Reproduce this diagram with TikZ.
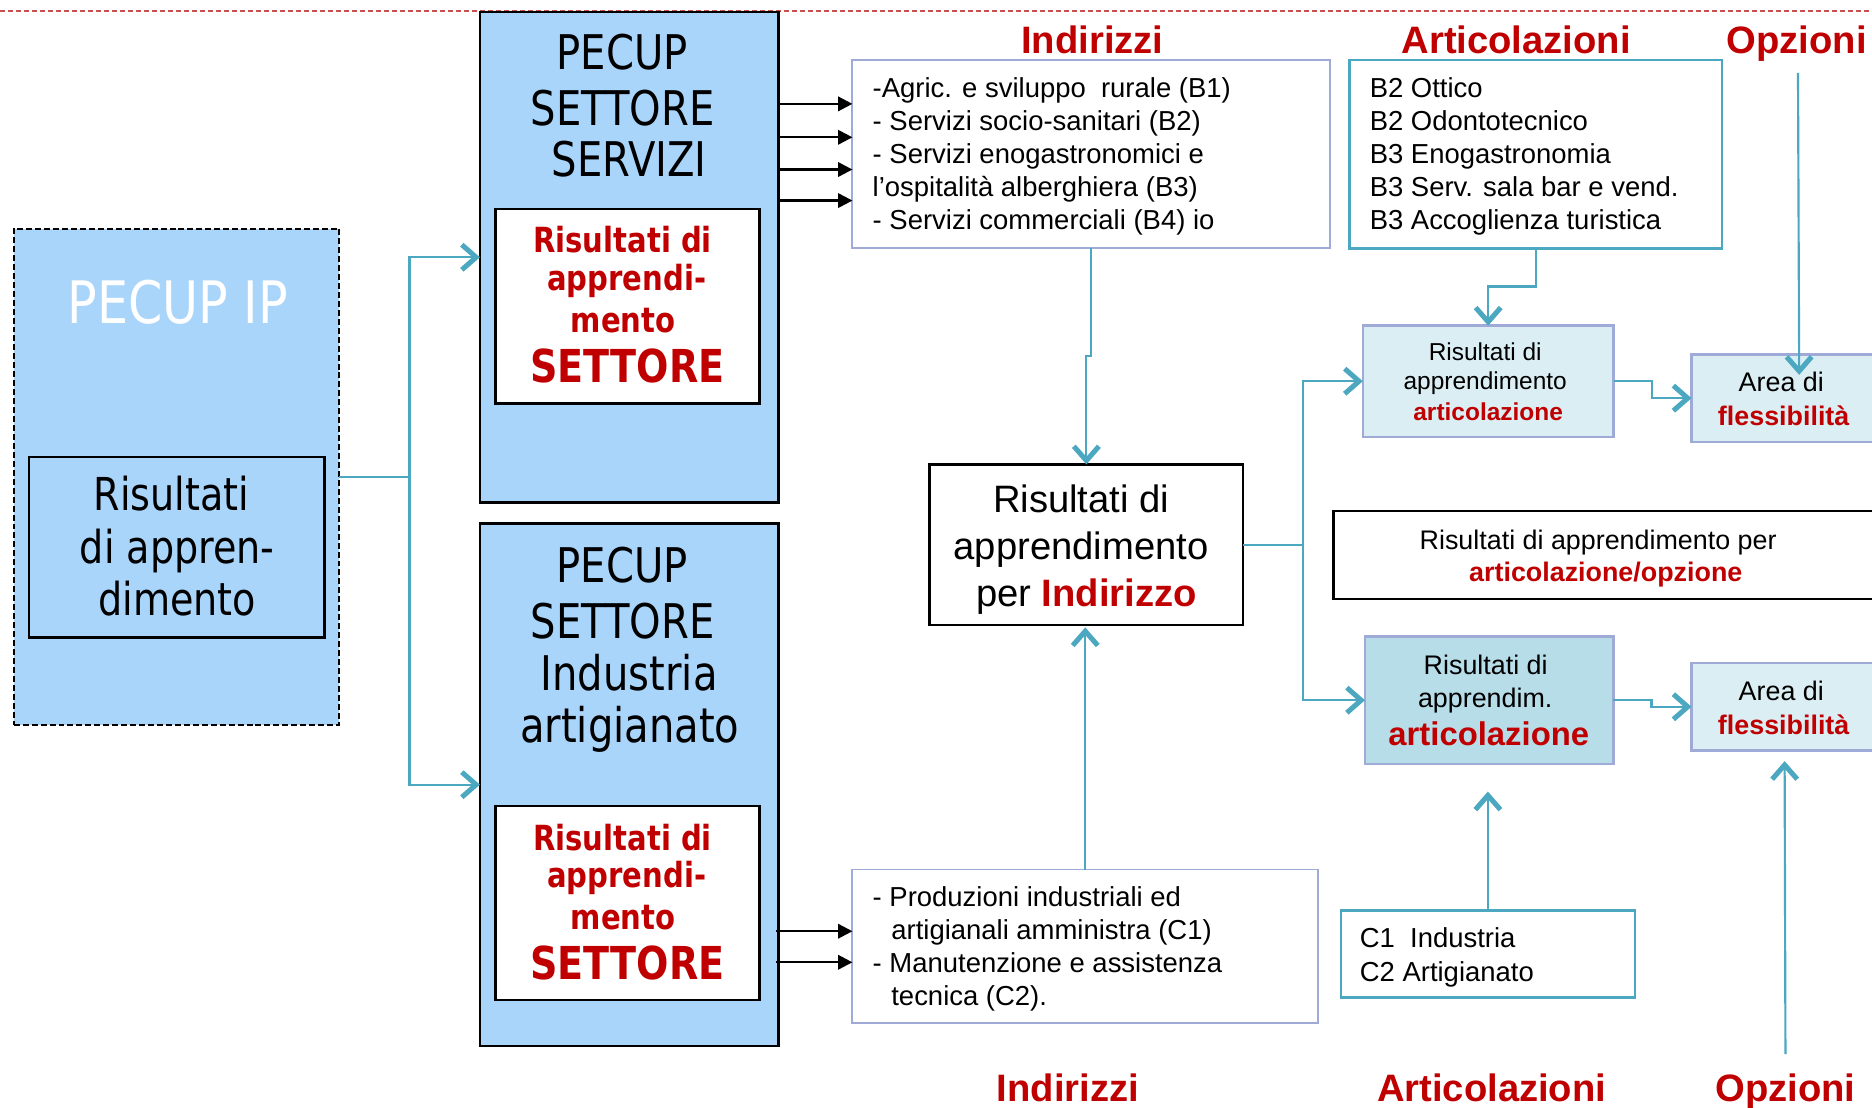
\documentclass[tikz,border=0pt]{standalone}
\usepackage{fontspec}
\setmainfont{Liberation Sans}
\newfontfamily\tah[FakeStretch=0.84]{DejaVu Sans}
\usetikzlibrary{arrows.meta}
\definecolor{pblue}{RGB}{170,213,251}
\definecolor{redd}{RGB}{192,0,0}
\definecolor{tealc}{RGB}{75,168,192}
\definecolor{lavc}{RGB}{160,170,215}
\definecolor{lightc}{RGB}{219,238,244}
\definecolor{midc}{RGB}{183,221,232}
\definecolor{dashred}{RGB}{200,80,80}
\newcommand\myfs[1]{\fontsize{#1pt}{#1pt}\selectfont}
\begin{document}
\begin{tikzpicture}[x=1pt,y=-1pt,
  tl/.style={draw=tealc, line width=1.8pt},
  tla/.style={tl, -{Straight Barb[length=12pt,width=21pt,line width=4.2pt]}},
  blk/.style={draw=black, line width=2pt, -{Triangle[length=12pt,width=12pt]}},
  bx/.style={anchor=north west, inner sep=0pt, outer sep=0pt, rectangle},
  tx/.style={anchor=base, inner sep=0pt, outer sep=0pt},
  lx/.style={anchor=base west, inner sep=0pt, outer sep=0pt, font=\myfs{23}},
  hd/.style={tx, text=redd, font=\myfs{32}\bfseries},
  th/.style={tx, font=\tah\myfs{40}},
  tr/.style={tx, text=redd, font=\tah\myfs{29}\bfseries},
  tb/.style={tx, text=redd, font=\tah\myfs{38}\bfseries}]
\useasboundingbox (0,0) rectangle (1568,928);
\clip (0,0) rectangle (1568,928);
\fill[white] (0,0) rectangle (1568,928);
\draw[dashred, line width=1.8pt, dash pattern=on 4.5pt off 2.2pt] (0,9.5) -- (1568,9.5);

% boxes
\node[bx, fill=pblue, draw=black, line width=1.5pt, dash pattern=on 5pt off 2.5pt,
  minimum width=272.5pt, minimum height=415.5pt] (ip) at (11.5,191.5) {};
\node[bx, fill=pblue, draw=black, line width=2pt, minimum width=247.5pt, minimum height=151pt] (ipin) at (24.3,383) {};
\node[bx, fill=pblue, draw=black, line width=2pt, minimum width=250pt, minimum height=411pt] (serv) at (402,10) {};
\node[bx, fill=white, draw=black, line width=2pt, minimum width=221pt, minimum height=163pt] (servin) at (415,175) {};
\node[bx, fill=pblue, draw=black, line width=2pt, minimum width=250pt, minimum height=437.5pt] (indus) at (402,438.5) {};
\node[bx, fill=white, draw=black, line width=2pt, minimum width=221pt, minimum height=162.5pt] (indusin) at (415,675) {};
\node[bx, draw=lavc, line width=1.6pt, minimum width=400pt, minimum height=157.5pt] (ind1) at (714,50.5) {};
\node[bx, draw=tealc, line width=2pt, minimum width=312pt, minimum height=157.5pt] (art1) at (1130.4,50.5) {};
\node[bx, fill=lightc, draw=lavc, line width=2pt, minimum width=210pt, minimum height=93pt] (rart1) at (1141.5,272.8) {};
\node[bx, fill=lightc, draw=lavc, line width=2pt, minimum width=156pt, minimum height=73pt] (area1) at (1416.8,297) {};
\node[bx, draw=black, line width=2pt, minimum width=262.5pt, minimum height=134.5pt] (rind) at (778.7,389) {};
\node[bx, draw=black, line width=2pt, minimum width=470pt, minimum height=73.5pt] (opzbox) at (1117,428) {};
\node[bx, fill=midc, draw=lavc, line width=2pt, minimum width=208pt, minimum height=107pt] (rart2) at (1143.3,533) {};
\node[bx, fill=lightc, draw=lavc, line width=2pt, minimum width=156pt, minimum height=73pt] (area2) at (1416.8,555.5) {};
\node[bx, draw=tealc, line width=2pt, minimum width=246.5pt, minimum height=73pt] (cbox) at (1123,762.5) {};
\node[bx, draw=lavc, line width=1.6pt, minimum width=390pt, minimum height=128.7pt] (ind2) at (714,728.3) {};

% headings
\node[hd] (hI1) at (915,44.7) {Indirizzi};
\node[hd] (hA1) at (1270,44.7) {Articolazioni};
\node[hd] (hO1) at (1505,44.7) {Opzioni};
\node[hd] (hI2) at (894.5,922.4) {Indirizzi};
\node[hd] (hA2) at (1249.4,922.4) {Articolazioni};
\node[hd] (hO2) at (1495.5,922.4) {Opzioni};

% PECUP IP
\node[tx, text=white, font=\tah\myfs{49}] (tip) at (149,270.8) {PECUP IP};
\node[tx, font=\tah\myfs{38}] (tip1) at (143.5,427.7) {Risultati};
\node[tx, font=\tah\myfs{38}] (tip2) at (148.5,472.4) {di appren-};
\node[tx, font=\tah\myfs{38}] (tip3) at (148.5,515.2) {dimento};

% servizi
\node[th] (ts1) at (521,58.6) {PECUP};
\node[th] (ts2) at (521.5,105.3) {SETTORE};
\node[th] (ts3) at (527,148) {SERVIZI};
\node[tr] (ts4) at (521.5,211.3) {Risultati di};
\node[tr] (ts5) at (525,243.5) {apprendi-};
\node[tr] (ts6) at (522,278.3) {mento};
\node[tb] (ts7) at (525.5,320.5) {SETTORE};

% industria
\node[th] (tn1) at (521,487.6) {PECUP};
\node[th] (tn2) at (521.5,534.7) {SETTORE};
\node[th] (tn3) at (527,578.6) {Industria};
\node[th] (tn4) at (527.5,621.7) {artigianato};
\node[tr] (tn5) at (521.5,712) {Risultati di};
\node[tr] (tn6) at (525,743.5) {apprendi-};
\node[tr] (tn7) at (522,778.6) {mento};
\node[tb] (tn8) at (525.5,820.5) {SETTORE};

% indirizzi list top
\node[lx] (l1) at (731,81.5) {-Agric. e sviluppo\ \ rurale (B1)};
\node[lx] (l2) at (731,108.9) {- Servizi socio-sanitari (B2)};
\node[lx] (l3) at (731,136.8) {- Servizi enogastronomici e};
\node[lx] (l4) at (731,164.7) {l’ospitalità alberghiera (B3)};
\node[lx] (l5) at (731,192.6) {- Servizi commerciali (B4) io};

% articolazioni list
\node[lx] (a1) at (1147.3,81.5) {B2 Ottico};
\node[lx] (a2) at (1147.3,108.9) {B2 Odontotecnico};
\node[lx] (a3) at (1147.3,136.8) {B3 Enogastronomia};
\node[lx] (a4) at (1147.3,164.7) {B3 Serv. sala bar e vend.};
\node[lx] (a5) at (1147.3,192.6) {B3 Accoglienza turistica};

% rart1
\node[tx, font=\myfs{20.5}] (r11) at (1244,302) {Risultati di};
\node[tx, font=\myfs{20.5}] (r12) at (1244,326.6) {apprendimento};
\node[tx, font=\myfs{20.5}\bfseries, text=redd] (r13) at (1246.5,352.3) {articolazione};

% area1
\node[tx, font=\myfs{22.5}] (f11) at (1492,328) {Area di};
\node[tx, font=\myfs{22.5}\bfseries, text=redd] (f12) at (1494,356) {flessibilità};

% rind
\node[tx, font=\myfs{32}] (ri1) at (905.6,429.2) {Risultati di};
\node[tx, font=\myfs{32}] (ri2) at (905.6,468.5) {apprendimento};
\node[tx, font=\myfs{32}] (ri3) at (910,507.7) {per \textcolor{redd}{\bfseries Indirizzo}};

% opzbox
\node[tx, font=\myfs{22.5}] (o1) at (1338.6,460.6) {Risultati di apprendimento per};
\node[tx, font=\myfs{22.5}\bfseries, text=redd] (o2) at (1345,487.4) {articolazione/opzione};

% rart2
\node[tx, font=\myfs{22.5}] (r21) at (1244.4,564.8) {Risultati di};
\node[tx, font=\myfs{22.5}] (r22) at (1244,592.3) {apprendim.};
\node[tx, font=\myfs{27.5}\bfseries, text=redd] (r23) at (1247,624.4) {articolazione};

% area2
\node[tx, font=\myfs{22.5}] (f21) at (1492,587) {Area di};
\node[tx, font=\myfs{22.5}\bfseries, text=redd] (f22) at (1494,614.8) {flessibilità};

% cbox
\node[lx] (c1) at (1139,793.9) {C1\ \ Industria};
\node[lx] (c2) at (1139,821.7) {C2 Artigianato};

% ind2 list
\node[lx] (m1) at (731,759.3) {- Produzioni industriali ed};
\node[lx] (m2) at (746.6,786.8) {artigianali amministra (C1)};
\node[lx] (m3) at (731,814.6) {- Manutenzione e assistenza};
\node[lx] (m4) at (746.6,842.4) {tecnica (C2).};

% connectors
\draw[tl] (ip.east) -- ++(59,0) coordinate (trunk);
\draw[tla] (trunk) |- (serv.west);
\draw[tla] (trunk) |- (indus.west);
\foreach \yy in {87,115,142,168} \draw[blk] (serv.east |- 0,\yy) -- (ind1.west |- 0,\yy);
\foreach \yy in {780,806} \draw[blk] ([xshift=-2pt]indus.east |- 0,\yy) -- (ind2.west |- 0,\yy);
\draw[tla] (ind1.south) -- ++(0,90.5) -| (rind.north);
\draw[tla] (art1.south) -- ++(0,32) -| (rart1.north);
\coordinate (oz1) at (1506,61);
\coordinate (oz1e) at (1507,314);
\draw[tla] (oz1) -- (oz1e);
\draw[tla] (rart1.east) -- ++(32,0) |- (area1.west);
\draw[tl] (rind.east) -- ++(50,0) coordinate (tr2);
\draw[tla] (tr2) |- (rart1.west);
\draw[tla] (tr2) |- (rart2.west);
\draw[tla] (rart2.east) -- ++(32,0) |- (area2.west);
\coordinate (oz2) at (1495.5,883);
\draw[tla] (oz2) -- ([yshift=-9pt]area2.south);
\draw[tla, shorten >=23pt] (cbox.north) -- (cbox.north |- rart2.south);
\draw[tla, shorten >=2pt] (ind2.north) -- (ind2.north |- rind.south);
\end{tikzpicture}
\end{document}
